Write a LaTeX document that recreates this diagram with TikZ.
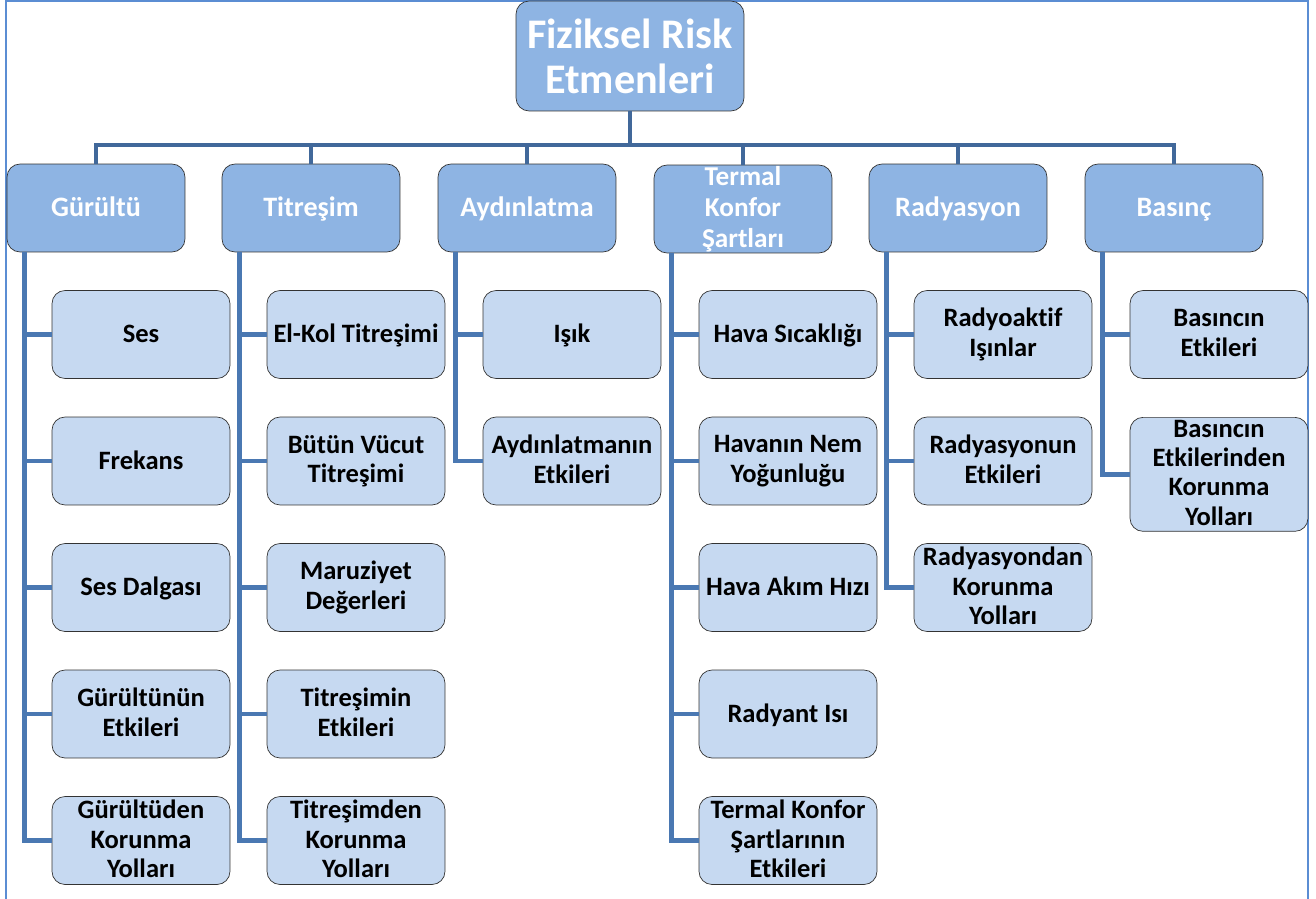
\documentclass[tikz,border=0pt]{standalone}
\usepackage{fontspec}
\setmainfont{Carlito}[Ligatures=NoCommon]
\usepackage{tikz}

\definecolor{frameblue}{HTML}{5B8DD3}
\definecolor{busblue}{HTML}{41689A}
\definecolor{legblue}{HTML}{4A78B2}
\definecolor{headfill}{HTML}{8EB4E3}
\definecolor{itemfill}{HTML}{C6D9F1}

\begin{document}
\begin{tikzpicture}
    [
        x=0.02cm, y=-0.02cm,
        rootbox/.style={draw=black!80, fill=headfill, rounded corners=0.26cm,
            minimum width=4.56cm, minimum height=2.2cm, inner sep=1pt,
            align=center, text=white, font=\fontsize{24}{25.5}\selectfont\bfseries},
        headbox/.style={draw=black!80, fill=headfill, rounded corners=0.26cm,
            minimum width=3.56cm, minimum height=1.76cm, inner sep=1pt,
            align=center, text=white, font=\fontsize{16}{17.6}\selectfont\bfseries,
            execute at begin node=\rule{0pt}{12pt},
            execute at end node=\rule[-2pt]{0pt}{2pt}},
        itembox/.style={draw=black!80, fill=itemfill, rounded corners=0.26cm,
            minimum width=3.56cm, minimum height=1.76cm, inner sep=1pt,
            align=center, text=black, font=\fontsize{15.1}{16.7}\selectfont\bfseries,
            execute at begin node=\rule{0pt}{11.5pt},
            execute at end node=\rule[-2pt]{0pt}{2pt}},
        bus/.style={draw=busblue, line width=2.8pt},
        leg/.style={draw=legblue, line width=2.6pt},
    ]

    \useasboundingbox (0,0) rectangle (1316,899);
    \draw [frameblue, line width=1.2pt] (6,899) -- (6,1) -- (1308,1) -- (1308,899);

    % root and first level
    \node [rootbox] (root) at (630,56) {Fiziksel Risk\\Etmenleri};

    \node [headbox] (g) at (96,208) {Gürültü};
    \node [headbox] (t) at (311,208) {Titreşim};
    \node [headbox] (a) at (527,208) {Aydınlatma};
    \node [headbox, font=\fontsize{15.5}{17.6}\selectfont\bfseries, inner ysep=0pt,
        execute at begin node={}, execute at end node={}] (k) at (743,209)
        {Termal\\Konfor\\Şartları};
    \node [headbox] (r) at (958,208) {Radyasyon};
    \node [headbox] (b) at (1174,208) {Basınç};

    \coordinate (busy) at (0,145);
    \foreach \n in {g,t,a,k,r,b} {
        \draw [bus] (\n.north) -- (\n.north |- busy) -| (root.south);
    }

    % second level
    \foreach \j/\txt in {1/Ses, 2/Frekans, 3/Ses Dalgası,
        4/{Gürültünün\\Etkileri}, 5/{Gürültüden\\Korunma\\Yolları}} {
        \node [itembox] (g\j) at (141, 208 + 126.5*\j) {\txt};
    }
    \foreach \j/\txt in {1/El-Kol Titreşimi, 2/{Bütün Vücut\\Titreşimi},
        3/{Maruziyet\\Değerleri}, 4/{Titreşimin\\Etkileri},
        5/{Titreşimden\\Korunma\\Yolları}} {
        \node [itembox] (t\j) at (356, 208 + 126.5*\j) {\txt};
    }
    \foreach \j/\txt in {1/Işık, 2/{Aydınlatmanın\\Etkileri}} {
        \node [itembox] (a\j) at (572, 208 + 126.5*\j) {\txt};
    }
    \foreach \j/\txt in {1/Hava Sıcaklığı, 2/{Havanın Nem\\Yoğunluğu},
        3/Hava Akım Hızı, 4/Radyant Isı,
        5/{Termal Konfor\\Şartlarının\\Etkileri}} {
        \node [itembox] (k\j) at (788, 208 + 126.5*\j) {\txt};
    }
    \foreach \j/\txt in {1/{Radyoaktif\\Işınlar}, 2/{Radyasyonun\\Etkileri},
        3/{Radyasyondan\\Korunma\\Yolları}} {
        \node [itembox] (r\j) at (1003, 208 + 126.5*\j) {\txt};
    }
    \node [itembox] (b1) at (1219, 334.5) {Basıncın\\Etkileri};
    \node [itembox, minimum height=2.28cm, inner ysep=0pt, anchor=north] (b2)
        at (1219, 417) {Basıncın\\Etkilerinden\\Korunma\\Yolları};

    % legs from each head down to its items
    \foreach \n/\last in {g/5, t/5, a/2, k/5, r/3, b/2} {
        \foreach \j in {1,...,\last} {
            \draw [leg] ([xshift=0.36cm]\n.south west) |- (\n\j.west);
        }
    }

\end{tikzpicture}
\end{document}
